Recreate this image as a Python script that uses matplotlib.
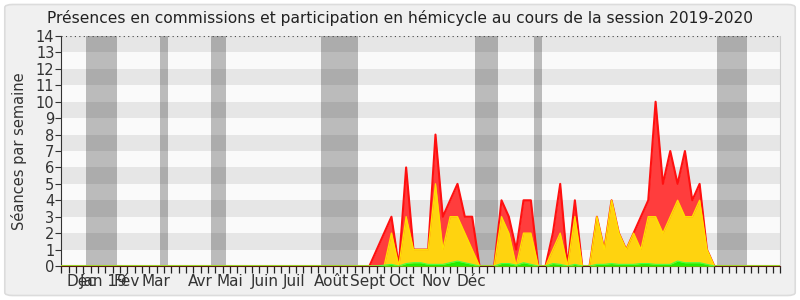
import numpy as np
import matplotlib
matplotlib.use('Agg')
from matplotlib import pyplot as plt
from matplotlib.patches import FancyBboxPatch

# weekly values (week index 0..98), only weeks 42..89 are non zero
n_weeks = 99
first = 42
commissions = [0, 1, 2, 3, 0, 6, 1, 1, 1, 8, 3, 4, 5, 3, 3, 0, 0, 0, 4, 3, 1, 4, 4, 0,
               0, 2, 5, 0, 4, 0, 0, 3, 1, 4, 2, 1, 2, 3, 4, 10, 5, 7, 5, 7, 4, 5, 1, 0]
hemicycle = [0, 0, 0, 2, 0, 3, 1, 1, 1, 5, 1, 3, 3, 2, 1, 0, 0, 0, 3, 2, 0, 2, 2, 0,
             0, 1, 2, 0, 3, 0, 0, 3, 1, 4, 2, 1, 2, 1, 3, 3, 2, 3, 4, 3, 3, 4, 1, 0]
interventions = [0, 0, 0.05, 0.1, 0, 0.15, 0.2, 0.2, 0.1, 0.1, 0.1, 0.2, 0.3, 0.2, 0.1, 0, 0, 0,
                 0.15, 0.15, 0.05, 0.2, 0.1, 0, 0, 0.15, 0.1, 0, 0.1, 0, 0, 0.1, 0.1, 0.15,
                 0.1, 0.1, 0.1, 0.15, 0.15, 0.1, 0.1, 0.1, 0.3, 0.2, 0.2, 0.2, 0.1, 0]

# vacation periods (in weeks)
vacances = [(3.35, 7.55), (13.45, 14.5), (20.4, 22.5), (35.4, 40.5),
            (56.4, 59.5), (64.4, 65.5), (89.4, 93.5)]

mois = ['Déc', 'Jan 19', 'Fév', 'Mar', 'Avr', 'Mai', 'Juin', 'Juil', 'Août',
        'Sept', 'Oct', 'Nov', 'Déc']
mois_pos = [2.69, 5.82, 8.95, 12.91, 18.9, 22.99, 27.76, 31.72, 36.76,
            41.8, 46.3, 51.08, 55.84]


def pad(vals):
    out = np.zeros(n_weeks)
    out[first:first + len(vals)] = vals
    return out


weeks = np.arange(n_weeks)
red = pad(commissions)
yellow = pad(hemicycle)
green = pad(interventions)

fig = plt.figure(figsize=(8, 3), dpi=100, facecolor='white')
fig.patches.append(FancyBboxPatch((0.006, 0.015), 0.988, 0.97, boxstyle='round,pad=0,rounding_size=0.01',
                                  transform=fig.transFigure, facecolor='#f0f0f0',
                                  edgecolor='#dcdcdc', linewidth=1.2, zorder=-10))
ax = fig.add_axes([0.0766, 0.1133, 0.8988, 0.7667])
ax.set_facecolor('#fafafa')

for k in range(1, 14, 2):
    ax.axhspan(k, k + 1, color='#e6e6e6', lw=0, zorder=0)
for a, b in vacances:
    ax.axvspan(a, b, color='black', alpha=0.25, lw=0, zorder=1)

ax.fill_between(weeks, 0, red, color='#ff3d3d', lw=0, zorder=2)
ax.plot(weeks, red, color='#ff1010', lw=1.5, zorder=3)
ax.fill_between(weeks, 0, yellow, color='#ffd30f', lw=0, zorder=4)
ax.plot(weeks, yellow, color='#ffe000', lw=1, zorder=5)
ax.fill_between(weeks, 0, green, color='#22ee00', lw=0, zorder=6)
ax.plot(weeks, green, color='#44ff44', lw=0.8, zorder=7)
ax.axhline(14, color='#444444', lw=0.8, ls=(0, (1, 3)), zorder=8)

ax.set_xlim(0, 98)
ax.set_ylim(0, 14)
ax.set_yticks(range(15))
ax.set_xticks(weeks)
ax.set_xticklabels([])
for pos, m in zip(mois_pos, mois):
    ax.text(pos, -0.5, m, ha='center', va='top', fontsize=11, color='#333333')

ax.tick_params(axis='y', labelsize=10.5, length=4, color='#333333', labelcolor='#333333', pad=1)
ax.tick_params(axis='x', length=5, color='#222222', width=0.9)
ax.spines['top'].set_visible(False)
ax.spines['right'].set_color('#cccccc')
ax.spines['left'].set_color('#333333')
ax.spines['bottom'].set_color('#5a1a10')

ax.set_ylabel('Séances par semaine', fontsize=10.5, color='#333333', labelpad=6)
fig.text(0.5, 0.94, 'Présences en commissions et participation en hémicycle au cours de la session 2019-2020',
         ha='center', va='center', fontsize=11.2, color='#222222')

fig.savefig('out.png', dpi=100, facecolor=fig.get_facecolor())
